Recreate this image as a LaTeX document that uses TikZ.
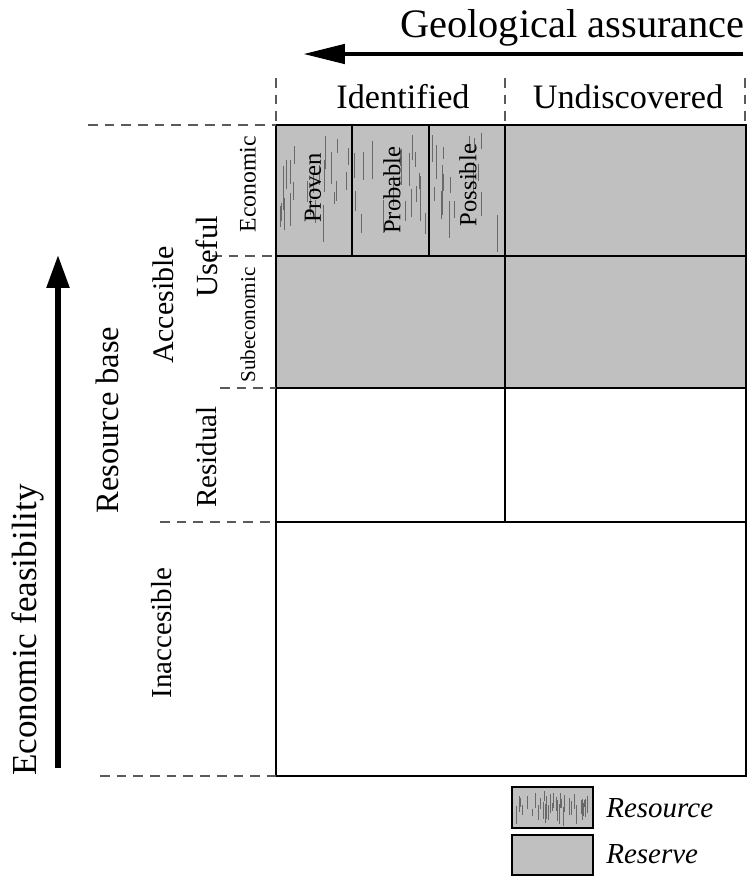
\documentclass[tikz,border=0pt]{standalone}
\usepackage{fontspec}
\setmainfont{Liberation Serif}
\usetikzlibrary{arrows.meta}
\definecolor{reservegray}{RGB}{192,192,192}
\definecolor{streakgray}{RGB}{105,105,105}
\definecolor{guidegray}{RGB}{90,90,90}

\begin{document}
\begin{tikzpicture}[x=0.02cm, y=-0.02cm,
    cell/.style={draw=black, line width=1.3pt},
    guide/.style={draw=guidegray, line width=0.6pt, dash pattern=on 5.5pt off 4pt},
    streak/.style={draw=streakgray, line width=0.5pt},
    tag/.style={inner sep=0pt, rotate=90}]
    \useasboundingbox (0,0) rectangle (749,876);

    % reserve area
    \fill[reservegray] (276,125) rectangle (746,388);
    \fill[reservegray] (512,787) rectangle (593,828);
    \fill[reservegray] (512,835) rectangle (593,875);

    % resource streaks
    \pgfmathsetseed{11}
    \foreach \i in {1,...,66} {
        \pgfmathsetmacro\hx{280+rnd*221}
        \pgfmathsetmacro\hy{132+rnd*85}
        \pgfmathsetmacro\hl{12+rnd*26}
        \draw[streak] (\hx,\hy) -- ++(0,\hl);
    }
    \foreach \i in {1,...,40} {
        \pgfmathsetmacro\hx{516+rnd*73}
        \pgfmathsetmacro\hy{791+rnd*20}
        \pgfmathsetmacro\hl{7+rnd*14}
        \draw[streak] (\hx,\hy) -- ++(0,\hl);
    }

    % grid
    \draw[cell] (276,125) rectangle (746,776);
    \draw[cell] (276,256) -- (746,256);
    \draw[cell] (276,388) -- (746,388);
    \draw[cell] (276,522) -- (746,522);
    \draw[cell] (505,125) -- (505,522);
    \draw[cell] (352,125) -- (352,256);
    \draw[cell] (429,125) -- (429,256);
    \draw[cell, line width=1.6pt] (512,787) rectangle (593,828);
    \draw[cell, line width=1.6pt] (512,835) rectangle (593,875);

    % dashed guides
    \foreach \gx in {276,505,745}
        \draw[guide] (\gx,78) -- (\gx,121);
    \draw[guide] ( 88,125) -- (276,125);
    \draw[guide] (212,256) -- (276,256);
    \draw[guide] (220,388) -- (276,388);
    \draw[guide] (160,522) -- (276,522);
    \draw[guide] (100,776) -- (276,776);

    % axes
    \coordinate (geoStart) at (743,54);
    \coordinate (geoEnd)   at (303,54);
    \draw[line width=2.8pt, -{Triangle[length=0.84cm, width=0.38cm]}] (geoStart) -- (geoEnd);
    \coordinate (econStart) at (58,768);
    \coordinate (econEnd)   at (58,255);
    \draw[line width=3.2pt, -{Triangle[length=0.66cm, width=0.44cm]}] (econStart) -- (econEnd);

    % headings
    \node[font=\fontsize{23}{23}\selectfont, anchor=base east, inner sep=0pt] (geoTitle) at (745,37) {Geological assurance};
    \node[font=\fontsize{19.5}{19.5}\selectfont] (identified)   at (403,97) {Identified};
    \node[font=\fontsize{19.5}{19.5}\selectfont] (undiscovered) at (628,97) {Undiscovered};

    % side labels
    \node[tag, font=\fontsize{20}{20}\selectfont]   (econTitle)   at ( 28,630) {Economic feasibility};
    \node[tag, font=\fontsize{18.5}{18.5}\selectfont] (resBase)   at (107,420) {Resource base};
    \node[tag, font=\fontsize{17}{17}\selectfont]   (accesible)   at (163,305) {Accesible};
    \node[tag, font=\fontsize{16.5}{16.5}\selectfont] (inaccesible) at (162,633) {Inaccesible};
    \node[tag, font=\fontsize{17.5}{17.5}\selectfont] (useful)    at (207,257) {Useful};
    \node[tag, font=\fontsize{16.5}{16.5}\selectfont] (residual)  at (207,457) {Residual};
    \node[tag, font=\fontsize{13.5}{13.5}\selectfont] (economic)  at (248,184) {Economic};
    \node[tag, font=\fontsize{12}{12}\selectfont]   (subeconomic) at (248,325) {Subeconomic};

    % resource cells
    \node[tag, font=\fontsize{14}{14}\selectfont] (proven)   at (313,188) {Proven};
    \node[tag, font=\fontsize{14}{14}\selectfont] (probable) at (392,190) {Probable};
    \node[tag, font=\fontsize{14}{14}\selectfont] (possible) at (468,185) {Possible};

    % key
    \node[font=\fontsize{16.5}{16.5}\selectfont\itshape, anchor=base west, inner sep=0pt] (resourceKey) at (606,817) {Resource};
    \node[font=\fontsize{16.5}{16.5}\selectfont\itshape, anchor=base west, inner sep=0pt] (reserveKey)  at (606,863) {Reserve};
\end{tikzpicture}
\end{document}
